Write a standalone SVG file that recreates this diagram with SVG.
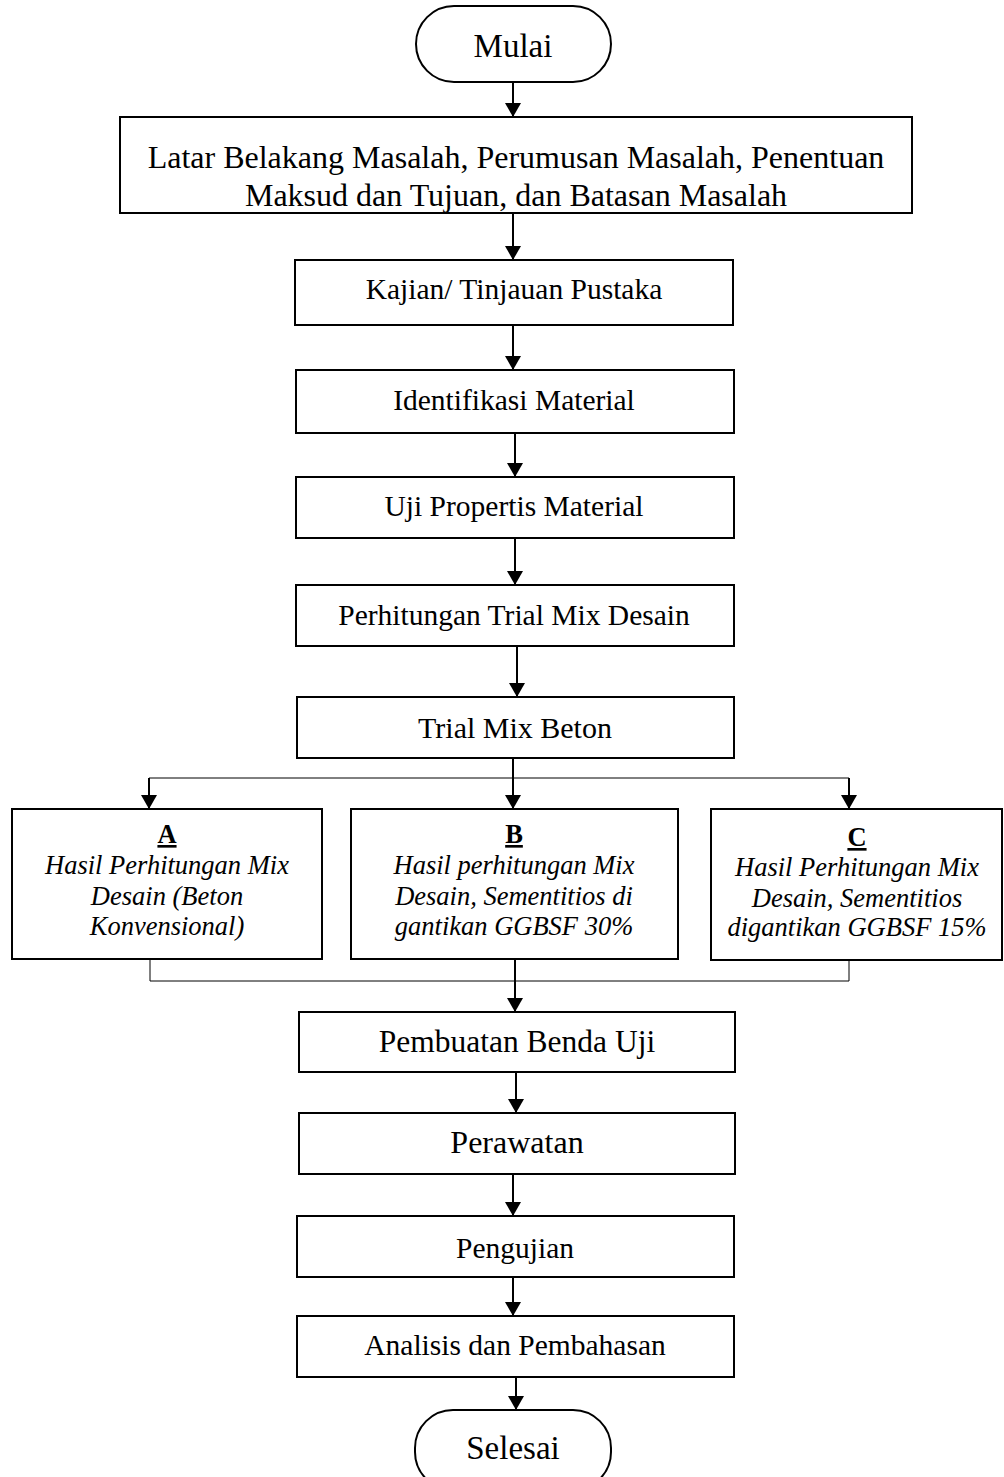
<svg xmlns="http://www.w3.org/2000/svg" width="1004" height="1477" viewBox="0 0 1004 1477">
<defs>
<marker id="ah" markerWidth="14" markerHeight="16" refX="14" refY="8" orient="auto" markerUnits="userSpaceOnUse">
<path d="M0,0 L14,8 L0,16 z" fill="#000"/>
</marker>
<style>
.box{fill:#fff;stroke:#000;stroke-width:2}
text{font-family:'Liberation Serif','Times New Roman',Times,serif;fill:#000;text-anchor:middle}
.it{font-style:italic}
.c{stroke:#000;stroke-width:2;fill:none}
.thin{stroke:#000;stroke-width:1;fill:none}
</style>
</defs>
<rect width="1004" height="1477" fill="#fff"/>
<g id="connectors">
<line class="c" x1="513" y1="82" x2="513" y2="117" marker-end="url(#ah)"/>
<line class="c" x1="513" y1="213" x2="513" y2="260" marker-end="url(#ah)"/>
<line class="c" x1="513" y1="325" x2="513" y2="370" marker-end="url(#ah)"/>
<line class="c" x1="515" y1="433" x2="515" y2="477" marker-end="url(#ah)"/>
<line class="c" x1="515" y1="538" x2="515" y2="585" marker-end="url(#ah)"/>
<line class="c" x1="517" y1="646" x2="517" y2="697" marker-end="url(#ah)"/>
<line class="c" x1="513" y1="758" x2="513" y2="809" marker-end="url(#ah)"/>
<polyline class="thin" points="149,790 149,778 849,778 849,790"/>
<line class="c" x1="149" y1="778" x2="149" y2="809" marker-end="url(#ah)"/>
<line class="c" x1="849" y1="778" x2="849" y2="809" marker-end="url(#ah)"/>
<polyline class="thin" points="150,959 150,981 849,981 849,959"/>
<line class="c" x1="515" y1="959" x2="515" y2="1012" marker-end="url(#ah)"/>
<line class="c" x1="516" y1="1072" x2="516" y2="1113" marker-end="url(#ah)"/>
<line class="c" x1="513" y1="1174" x2="513" y2="1216" marker-end="url(#ah)"/>
<line class="c" x1="513" y1="1277" x2="513" y2="1316" marker-end="url(#ah)"/>
<line class="c" x1="516" y1="1378" x2="516" y2="1410" marker-end="url(#ah)"/>
</g>
<g id="mulai">
<rect class="box" x="416" y="6" width="195" height="76" rx="38" ry="38"/>
<text x="513" y="57" font-size="33">Mulai</text>
</g>
<g id="latar">
<rect class="box" x="120" y="117" width="792" height="96"/>
<text x="516" y="168" font-size="32">Latar Belakang Masalah, Perumusan Masalah, Penentuan</text>
<text x="516" y="206" font-size="32">Maksud dan Tujuan, dan Batasan Masalah</text>
</g>
<g id="kajian">
<rect class="box" x="295" y="260" width="438" height="65"/>
<text x="514" y="299" font-size="29.5">Kajian/ Tinjauan Pustaka</text>
</g>
<g id="identifikasi">
<rect class="box" x="296" y="370" width="438" height="63"/>
<text x="514" y="410" font-size="29.5">Identifikasi Material</text>
</g>
<g id="uji">
<rect class="box" x="296" y="477" width="438" height="61"/>
<text x="514" y="516" font-size="29.5">Uji Propertis Material</text>
</g>
<g id="perhitungan">
<rect class="box" x="296" y="585" width="438" height="61"/>
<text x="514" y="625" font-size="29.5">Perhitungan Trial Mix Desain</text>
</g>
<g id="trialmix">
<rect class="box" x="297" y="697" width="437" height="61"/>
<text x="515" y="738" font-size="30">Trial Mix Beton</text>
</g>
<g id="a">
<rect class="box" x="12" y="809" width="310" height="150"/>
<text x="167" y="843" font-size="26.5" font-weight="bold" text-decoration="underline">A</text>
<text class="it" x="167" y="874" font-size="26.5">Hasil Perhitungan Mix</text>
<text class="it" x="167" y="905" font-size="26.5">Desain (Beton</text>
<text class="it" x="167" y="935" font-size="26.5">Konvensional)</text>
</g>
<g id="b">
<rect class="box" x="351" y="809" width="327" height="150"/>
<text x="514" y="843" font-size="26.5" font-weight="bold" text-decoration="underline">B</text>
<text class="it" x="514" y="874" font-size="26.5">Hasil perhitungan Mix</text>
<text class="it" x="514" y="905" font-size="26.5">Desain, Sementitios di</text>
<text class="it" x="514" y="935" font-size="26.5">gantikan GGBSF 30%</text>
</g>
<g id="c">
<rect class="box" x="711" y="809" width="291" height="151"/>
<text x="857" y="846" font-size="26.5" font-weight="bold" text-decoration="underline">C</text>
<text class="it" x="857" y="876" font-size="26.5">Hasil Perhitungan Mix</text>
<text class="it" x="857" y="907" font-size="26.5">Desain, Sementitios</text>
<text class="it" x="857" y="936" font-size="26.5">digantikan GGBSF 15%</text>
</g>
<g id="pembuatan">
<rect class="box" x="299" y="1012" width="436" height="60"/>
<text x="517" y="1052" font-size="31.5">Pembuatan Benda Uji</text>
</g>
<g id="perawatan">
<rect class="box" x="299" y="1113" width="436" height="61"/>
<text x="517" y="1153" font-size="32">Perawatan</text>
</g>
<g id="pengujian">
<rect class="box" x="297" y="1216" width="437" height="61"/>
<text x="515" y="1258" font-size="29.5">Pengujian</text>
</g>
<g id="analisis">
<rect class="box" x="297" y="1316" width="437" height="61"/>
<text x="515" y="1355" font-size="29.5">Analisis dan Pembahasan</text>
</g>
<g id="selesai">
<rect class="box" x="415" y="1410" width="196" height="80" rx="38" ry="38"/>
<text x="513" y="1459" font-size="33">Selesai</text>
</g>
</svg>
